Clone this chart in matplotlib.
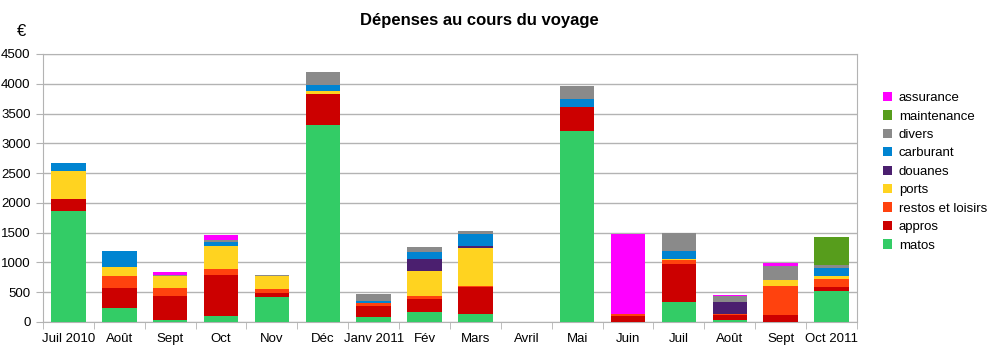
import numpy as np
import matplotlib.pyplot as plt

plt.rcParams['font.family'] = ['Liberation Sans', 'DejaVu Sans']

months = ["Juil 2010", "Août", "Sept", "Oct", "Nov", "Déc", "Janv 2011", "Fév",
          "Mars", "Avril", "Mai", "Juin", "Juil", "Août", "Sept", "Oct 2011"]

# stacked from bottom to top
matos       = [1860, 240,  40, 105, 420, 3300,  78, 170, 135, 0, 3210,    0, 335,  35,   0, 525]
appros      = [ 210, 330, 395, 680,  75,  520, 190, 210, 450, 0,  400,  100, 635,  90, 125,  55]
restos      = [   0, 200, 140, 100,  60,    0,  50,  60,  25, 0,    0,   35,  65,  10, 485, 140]
ports       = [ 460, 150, 195, 385, 215,   55,   0, 415, 630, 0,    0,    0,  20,   0,  95,  60]
douanes     = [   0,   0,   0,   0,   0,    0,   0, 195,  30, 0,    0,    0,   0, 200,   0,   0]
carburant   = [ 135, 270,   0,  70,   0,  100,  35, 125, 215, 0,  135,    0, 145,   0,   0, 135]
divers      = [   0,  10,  25,  40,  20,  225, 120,  85,  40, 0,  220,    0, 300, 100, 240,  45]
maintenance = [   0,   0,   0,   0,   0,    0,   0,   0,   0, 0,    0,    0,   0,   0,   0, 475]
assurance   = [   0,   0,  40,  75,   0,    0,   0,   0,   0, 0,    0, 1350,   0,  10,  40,   0]

series = [
    ("matos", matos, "#33CC66"),
    ("appros", appros, "#CC0000"),
    ("restos et loisirs", restos, "#FF420E"),
    ("ports", ports, "#FFD320"),
    ("douanes", douanes, "#4B1F6F"),
    ("carburant", carburant, "#0084D1"),
    ("divers", divers, "#8A8A8A"),
    ("maintenance", maintenance, "#579D1C"),
    ("assurance", assurance, "#FF00FF"),
]

fig = plt.figure(figsize=(10.03, 3.6), dpi=100)
ax = fig.add_axes([43 / 1003, 38 / 360, 814 / 1003, 268 / 360])

x = np.arange(len(months))
bottom = np.zeros(len(months))
handles = []
for name, vals, col in series:
    b = ax.bar(x, vals, 0.68, bottom=bottom, color=col, label=name, zorder=3)
    bottom += np.array(vals)
    handles.append(b)

ax.set_xlim(-0.5, len(months) - 0.5)
ax.set_ylim(0, 4500)
ax.set_yticks(range(0, 4501, 500))
ax.set_xticks(x)
ax.set_xticklabels(months)
ax.set_xticks(np.arange(-0.5, len(months), 1), minor=True)
ax.tick_params(axis='x', which='major', length=0, labelsize=9.5, pad=8)
ax.tick_params(axis='x', which='minor', length=5, color='#b3b3b3')
ax.tick_params(axis='y', length=5, color='#b3b3b3', labelsize=9.5, pad=4)
ax.grid(axis='y', color='#b3b3b3', lw=1, zorder=0)
for s in ax.spines.values():
    s.set_color('#b3b3b3')

fig.text(479 / 1003, 1 - 21 / 360, "Dépenses au cours du voyage", ha='center',
         va='center', fontsize=12, fontweight='bold')
fig.text(22 / 1003, 1 - 31 / 360, "€", ha='center', va='center', fontsize=12)

fig.legend(handles[::-1], [s[0] for s in series][::-1], loc='upper left',
           bbox_to_anchor=(871 / 1003, 1 - 80 / 360), frameon=False, fontsize=9.5,
           handlelength=0.7, handleheight=0.7, handletextpad=0.5, labelspacing=0.47)

plt.savefig("out.png")
